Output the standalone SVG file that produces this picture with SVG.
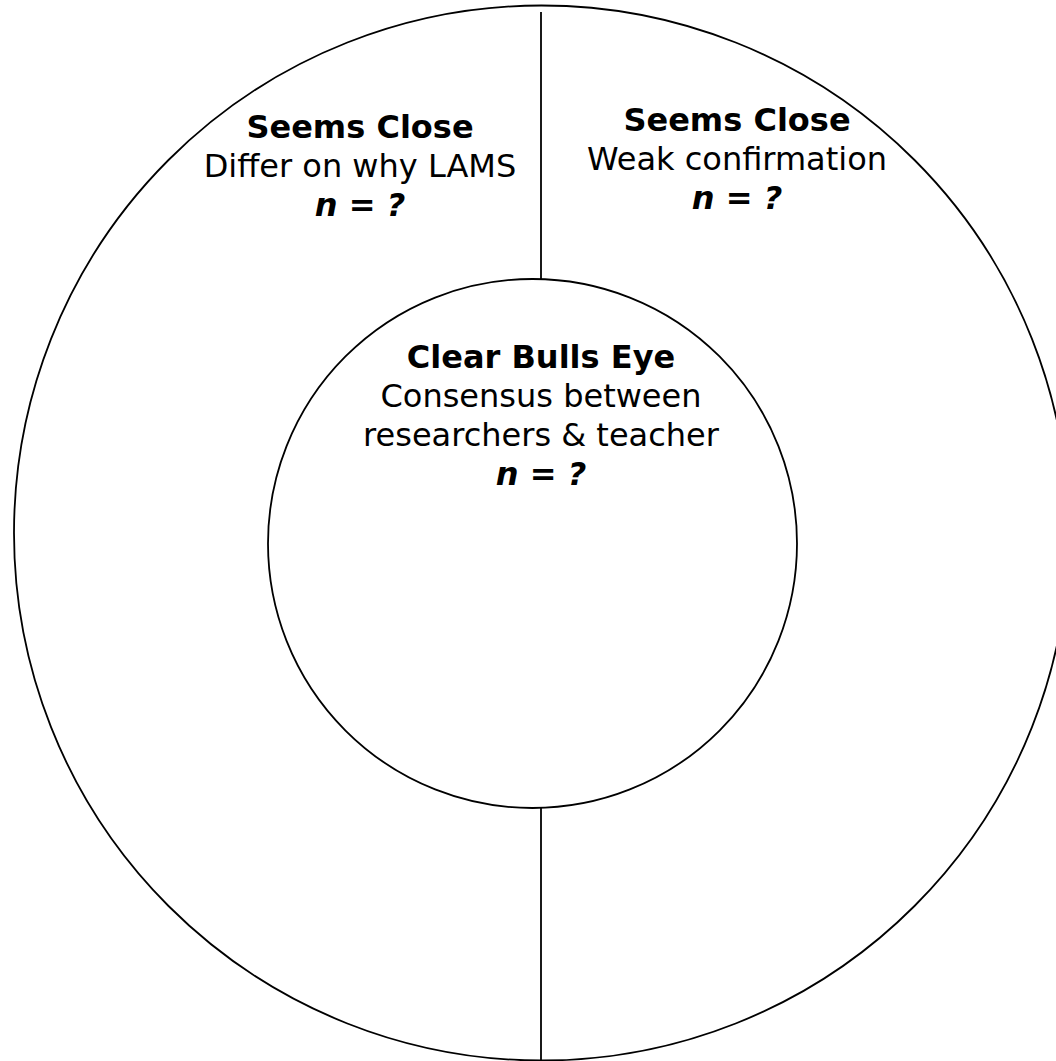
<svg xmlns="http://www.w3.org/2000/svg" width="1056" height="1061" viewBox="0 0 1056 1061">
<style>
.ring{fill:none;stroke:#000;stroke-width:1.8}
.ln{stroke:#000;stroke-width:1.8}
text{font-family:"DejaVu Sans","Verdana",sans-serif;font-size:32px;fill:#000;text-anchor:middle}
.b{font-weight:bold}
.n{font-weight:bold;font-style:italic}
</style>
<rect width="1056" height="1061" fill="#fff"/>
<g id="outer"><circle class="ring" cx="541.5" cy="533" r="527.5"/></g>
<g id="connectors">
<line class="ln" x1="541" y1="12" x2="541" y2="279"/>
<line class="ln" x1="541" y1="807" x2="541" y2="1061"/>
</g>
<g id="inner"><circle class="ring" cx="532.5" cy="543.5" r="264.5"/></g>
<g id="left-label">
<text class="b" x="360" y="138">Seems Close</text>
<text x="360" y="177">Differ on why LAMS</text>
<text class="n" x="360" y="216">n = ?</text>
</g>
<g id="right-label">
<text class="b" x="737" y="131">Seems Close</text>
<text x="737" y="170">Weak confirmation</text>
<text class="n" x="737" y="209">n = ?</text>
</g>
<g id="center-label">
<text class="b" x="541" y="368">Clear Bulls Eye</text>
<text x="541" y="407">Consensus between</text>
<text x="541" y="446">researchers &amp; teacher</text>
<text class="n" x="541" y="485">n = ?</text>
</g>
</svg>
